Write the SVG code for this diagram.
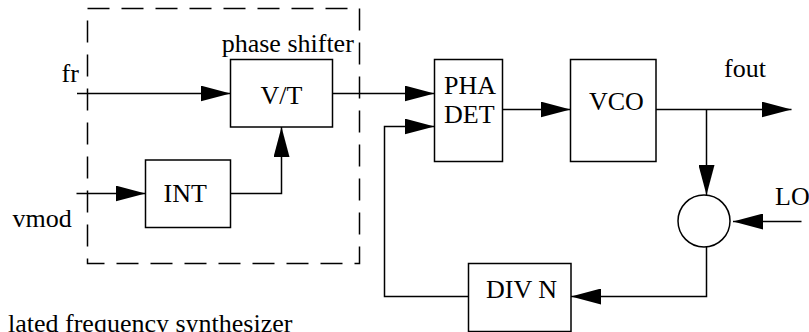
<svg xmlns="http://www.w3.org/2000/svg" width="809" height="332" viewBox="0 0 809 332">
<style>
  .box { fill: #fff; stroke: #000; stroke-width: 1.5; }
  .wire { fill: none; stroke: #000; stroke-width: 1.5; }
  .dash { fill: none; stroke: #000; stroke-width: 1.5; stroke-dasharray: 22 12; }
  .t { font-family: 'Liberation Serif', 'DejaVu Serif', serif; font-size: 26px; fill: #000; }
</style>
<defs>
  <marker id="arr" markerUnits="userSpaceOnUse" markerWidth="30" markerHeight="16" refX="30" refY="8" orient="auto">
    <path d="M0,0 L30,8 L0,16 z" fill="#000"/>
  </marker>
</defs>
<rect width="809" height="332" fill="#fff"/>
<g id="phase-shifter-group">
  <rect class="dash" x="87.5" y="8.5" width="272" height="255"/>
  <text class="t" font-family="Liberation Serif, serif" x="221.7" y="51.5">phase shifter</text>
</g>
<g id="connectors">
  <path class="wire" d="M77,93.5 H230.5" marker-end="url(#arr)"/>
  <path class="wire" d="M332.5,93.5 H434.5" marker-end="url(#arr)"/>
  <path class="wire" d="M502.5,109.5 H570.5" marker-end="url(#arr)"/>
  <path class="wire" d="M656,109.5 H791.5" marker-end="url(#arr)"/>
  <path class="wire" d="M706.5,109.5 V195" marker-end="url(#arr)"/>
  <path class="wire" d="M801.5,221.5 H733" marker-end="url(#arr)"/>
  <path class="wire" d="M706.5,247 V296.5 H571" marker-end="url(#arr)"/>
  <path class="wire" d="M468.5,296.5 H384.5 V126.5 H434.5" marker-end="url(#arr)"/>
  <path class="wire" d="M76.5,193.5 H145.5" marker-end="url(#arr)"/>
  <path class="wire" d="M230.5,193.5 H281.5 V127" marker-end="url(#arr)"/>
</g>
<g id="vt">
  <rect class="box" x="230.5" y="59.5" width="102" height="67.5"/>
  <text class="t" x="281.5" y="104" text-anchor="middle">V/T</text>
</g>
<g id="int">
  <rect class="box" x="145.5" y="160" width="85" height="67.5"/>
  <text class="t" x="163.5" y="201.5">INT</text>
</g>
<g id="phadet">
  <rect class="box" x="434.5" y="59.5" width="68" height="102"/>
  <text class="t" x="444" y="94">PHA</text>
  <text class="t" x="444" y="122.5">DET</text>
</g>
<g id="vco">
  <rect class="box" x="570.5" y="59.5" width="85.5" height="102"/>
  <text class="t" x="589" y="110">VCO</text>
</g>
<g id="mixer">
  <circle class="box" cx="704" cy="221" r="26"/>
</g>
<g id="divn">
  <rect class="box" x="468.5" y="263.5" width="102.5" height="68"/>
  <text class="t" x="486" y="297.5">DIV N</text>
</g>
<g id="labels">
  <text class="t" x="61.5" y="82">fr</text>
  <text class="t" x="12.5" y="226.5">vmod</text>
  <text class="t" x="724" y="76.5">fout</text>
  <text class="t" x="775" y="205">LO</text>
  <text class="t" x="8" y="332">lated frequency synthesizer</text>
</g>
</svg>
